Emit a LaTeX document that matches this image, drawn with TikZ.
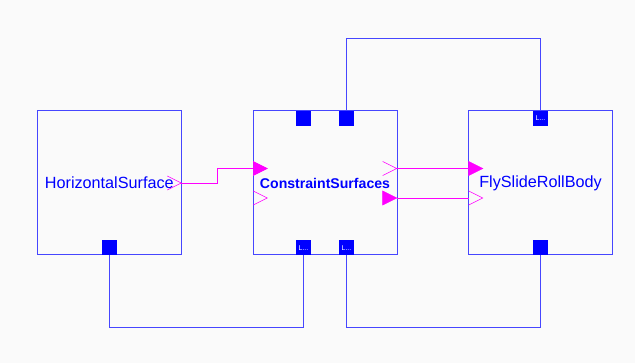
\documentclass[tikz,border=0pt]{standalone}
\usepackage{fontspec}
\setmainfont{Liberation Sans}
\usetikzlibrary{positioning,calc}

\definecolor{bgcol}{RGB}{250,250,250}
\definecolor{edgeblue}{RGB}{70,70,255}
\definecolor{portblue}{RGB}{0,0,255}
\definecolor{sigpink}{RGB}{255,0,255}

\tikzset{
  block/.style={draw=edgeblue,line width=1pt,rectangle,minimum width=144pt,minimum height=144pt,inner sep=0pt,text=portblue,font=\fontsize{16.2}{18}\selectfont},
  port/.style={fill=portblue,rectangle,minimum size=15pt,inner sep=0pt,text=white,font=\fontsize{7}{7}\selectfont},
  sigfill/.style={fill=sigpink,draw=sigpink,line width=0.6pt},
  sigopen/.style={draw=sigpink,line width=0.6pt},
  sigline/.style={draw=sigpink,line width=0.8pt},
  frameline/.style={draw=edgeblue,line width=1pt}
}

\begin{document}
\begin{tikzpicture}[x=1pt,y=-1pt]
\fill[bgcol] (0,0) rectangle (635,363);

% blocks
\node[block] (hs) at (109.3,183) {HorizontalSurface};
\node[block,font=\bfseries\fontsize{14.1}{16}\selectfont] (cs) at (325,183) {ConstraintSurfaces};
\node[block] (frb) at (540.5,183) {FlySlideRollBody};

% frame ports
\node[port,anchor=south] (hs-b) at (hs.south) {};
\node[port,anchor=north] (cs-t1) at ([xshift=-21.5pt]cs.north) {};
\node[port,anchor=north] (cs-t2) at ([xshift=21.5pt]cs.north) {};
\node[port,anchor=south] (cs-b1) at ([xshift=-21.5pt]cs.south) {L...};
\node[port,anchor=south] (cs-b2) at ([xshift=21.5pt]cs.south) {L...};
\node[port,anchor=north] (frb-t) at (frb.north) {L...};
\node[port,anchor=south] (frb-b) at (frb.south) {};

% signal ports
\coordinate (hs-out) at (181.3,183);
\coordinate (cs-in1) at (253.3,168.5);
\coordinate (cs-in2) at (253.3,198);
\coordinate (cs-out1) at (396.7,168.5);
\coordinate (cs-out2) at (396.7,198);
\coordinate (frb-in1) at (468.7,168.5);
\coordinate (frb-in2) at (468.7,198);

\draw[sigopen] ($(hs-out)+(-14,-7)$) -- (hs-out) -- ($(hs-out)+(-14,7)$);
\draw[sigfill] ($(cs-in1)+(0,-7)$) -- ($(cs-in1)+(14,0)$) -- ($(cs-in1)+(0,7)$) -- cycle;
\draw[sigopen] ($(cs-in2)+(0,-7)$) -- ($(cs-in2)+(14,0)$) -- ($(cs-in2)+(0,7)$);
\draw[sigopen] ($(cs-out1)+(-14,-7)$) -- (cs-out1) -- ($(cs-out1)+(-14,7)$);
\draw[sigfill] ($(cs-out2)+(-14,-7)$) -- (cs-out2) -- ($(cs-out2)+(-14,7)$) -- cycle;
\draw[sigfill] ($(frb-in1)+(0,-7)$) -- ($(frb-in1)+(14,0)$) -- ($(frb-in1)+(0,7)$) -- cycle;
\draw[sigopen] ($(frb-in2)+(0,-7)$) -- ($(frb-in2)+(14,0)$) -- ($(frb-in2)+(0,7)$);

% signal connections
\draw[sigline] (hs-out) -| ($(hs-out)!0.5!(cs-in1)$) |- (cs-in1);
\draw[sigline] (cs-out1) -- (frb-in1);
\draw[sigline] (cs-out2) -- (frb-in2);

% frame connections
\draw[frameline] (cs-t2.north) -- ++(0,-71.7) -| (frb-t.north);
\draw[frameline] (hs-b.south) -- ++(0,71.7) -| (cs-b1.south);
\draw[frameline] (cs-b2.south) -- ++(0,71.7) -| (frb-b.south);
\end{tikzpicture}
\end{document}
